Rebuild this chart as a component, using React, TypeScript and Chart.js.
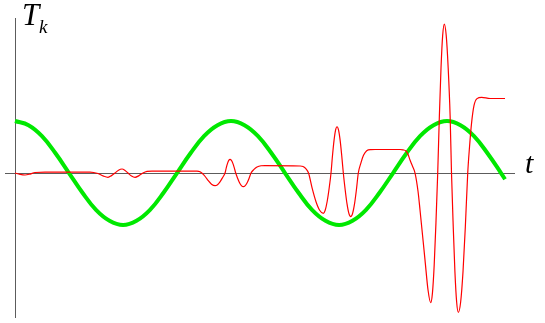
import React, { useEffect, useRef } from "react";
import { Chart, registerables } from "chart.js";

Chart.register(...registerables);

// Green reference wave
const greenT = [0, 0.393, 0.785, 1.178, 1.571, 1.963, 2.356, 2.749, 3.142, 3.534, 3.927, 4.32, 4.712, 5.105, 5.498, 5.89, 6.283, 6.676, 7.069, 7.461, 7.854, 8.247, 8.639, 9.032, 9.425, 9.817, 10.21, 10.603, 10.996, 11.388, 11.781, 12.174, 12.566, 12.959, 13.352, 13.744, 14.137, 14.254];
const greenV = [1, 0.92, 0.71, 0.38, 0, -0.38, -0.71, -0.92, -1, -0.92, -0.71, -0.38, 0, 0.38, 0.71, 0.92, 1, 0.92, 0.71, 0.38, 0, -0.38, -0.71, -0.92, -1, -0.92, -0.71, -0.38, 0, 0.38, 0.71, 0.92, 1, 0.92, 0.71, 0.38, 0, -0.12];

// Red response T_k
const redT = [
  0, 0.145, 0.291, 0.436, 0.582, 0.873, 1.309, 2.182, 2.414, 2.56, 2.705, 2.807, 2.909, 3.011, 3.113, 3.2, 3.287, 3.389, 3.491, 3.607, 3.723, 3.84, 3.985, 4.8,
  5.294, 5.382, 5.498, 5.614, 5.716, 5.818, 5.891, 5.963, 6.036, 6.109, 6.145, 6.182, 6.218, 6.254, 6.295, 6.337, 6.379, 6.42, 6.475, 6.531, 6.586, 6.641, 6.697, 6.753, 6.81, 6.865, 6.952, 7.04, 7.156, 7.272,
  8.29, 8.378, 8.465, 8.538, 8.645, 8.753, 8.861, 8.968, 9.023, 9.08, 9.137, 9.192, 9.236, 9.28, 9.323, 9.367, 9.413, 9.458, 9.503, 9.55, 9.604, 9.658, 9.712, 9.765, 9.82, 9.876, 9.931, 9.986, 10.065, 10.137, 10.23, 10.356, 10.472,
  11.199, 11.286, 11.374, 11.432, 11.49, 11.563, 11.636, 11.723, 11.781, 11.926, 12.014, 12.092, 12.143, 12.194, 12.245, 12.296, 12.344, 12.392, 12.44, 12.488, 12.543, 12.6, 12.657, 12.697, 12.747, 12.796, 12.846, 12.895, 12.964, 13.032, 13.1, 13.169, 13.221, 13.279, 13.352, 13.439, 13.576, 13.817, 14.254,
];
const redV = [
  0, -0.025, -0.038, -0.02, 0.01, 0.019, 0.019, 0.019, -0.01, -0.055, -0.083, -0.05, 0, 0.055, 0.077, 0.05, 0, -0.058, -0.083, -0.05, 0, 0.03, 0.038, 0.038,
  0.038, 0.025, -0.04, -0.14, -0.215, -0.244, -0.225, -0.17, -0.09, 0, 0.1, 0.186, 0.243, 0.263, 0.243, 0.186, 0.1, 0, -0.1, -0.186, -0.243, -0.263, -0.243, -0.186, -0.1, 0, 0.07, 0.115, 0.14, 0.144,
  0.135, 0.125, 0.08, 0, -0.297, -0.548, -0.716, -0.775, -0.716, -0.548, -0.297, 0, 0.341, 0.629, 0.822, 0.89, 0.822, 0.629, 0.341, 0, -0.321, -0.594, -0.776, -0.84, -0.776, -0.594, -0.321, 0, 0.2, 0.34, 0.429, 0.45, 0.452,
  0.452, 0.445, 0.423, 0.36, 0.25, 0.13, 0, -0.35, -0.71, -1.67, -2.25, -2.494, -2.304, -1.764, -0.954, 0, 1.096, 2.026, 2.647, 2.865, 2.647, 2.026, 1.096, 0, -1.025, -1.894, -2.475, -2.679, -2.475, -1.894, -1.025, 0, 0.5, 0.95, 1.3, 1.43, 1.456, 1.433, 1.433,
];

const xMin = -0.291;
const xMax = 14.544;
const yMin = -2.788;
const yMax = 2.981;

const xLabel = "t";
const yLabel = "T";
const ySub = "k";

const toPts = (ts: number[], vs: number[]) => ts.map((t, i) => ({ x: t, y: vs[i] }));

const axesPlugin = {
  id: "mathAxes",
  beforeDatasetsDraw(chart: any) {
    const { ctx, chartArea, scales } = chart;
    const x0 = Math.round(scales.x.getPixelForValue(0)) + 0.5;
    const y0 = Math.round(scales.y.getPixelForValue(0)) + 0.5;
    ctx.save();
    ctx.strokeStyle = "#5c5c5c";
    ctx.lineWidth = 1;
    ctx.beginPath();
    ctx.moveTo(chartArea.left, y0);
    ctx.lineTo(chartArea.right, y0);
    ctx.moveTo(x0, chartArea.top);
    ctx.lineTo(x0, chartArea.bottom);
    ctx.stroke();
    ctx.restore();
  },
  afterDraw(chart: any) {
    const { ctx, chartArea, scales } = chart;
    const x0 = scales.x.getPixelForValue(0);
    const y0 = scales.y.getPixelForValue(0);
    ctx.save();
    ctx.fillStyle = "#000";
    ctx.textBaseline = "alphabetic";
    ctx.textAlign = "left";
    ctx.font = "italic 31px 'Liberation Serif', 'DejaVu Serif', serif";
    ctx.fillText(yLabel, x0 + 7, chartArea.top + 7);
    ctx.font = "italic 19px 'Liberation Serif', 'DejaVu Serif', serif";
    ctx.fillText(ySub, x0 + 24, chartArea.top + 15);
    ctx.font = "italic 30px 'Liberation Serif', 'DejaVu Serif', serif";
    ctx.fillText(xLabel, chartArea.right + 10, y0);
    ctx.restore();
  },
};

export default function App() {
  const ref = useRef<HTMLCanvasElement | null>(null);
  useEffect(() => {
    if (!ref.current) return;
    const chart = new Chart(ref.current, {
      type: "line",
      data: {
        datasets: [
          {
            data: toPts(redT, redV),
            borderColor: "#ff0000",
            borderWidth: 1.2,
            pointRadius: 0,
            cubicInterpolationMode: "monotone",
            fill: false,
            order: 1,
          },
          {
            data: toPts(greenT, greenV),
            borderColor: "rgb(0,232,0)",
            borderWidth: 4,
            pointRadius: 0,
            tension: 0.4,
            fill: false,
            order: 2,
          },
        ],
      },
      options: {
        animation: false,
        responsive: false,
        maintainAspectRatio: false,
        layout: { padding: { left: 5, right: 30, top: 18, bottom: 5 } },
        plugins: { legend: { display: false }, tooltip: { enabled: false }, title: { display: false } },
        scales: {
          x: { type: "linear", min: xMin, max: xMax, display: false },
          y: { type: "linear", min: yMin, max: yMax, display: false },
        },
      },
      plugins: [axesPlugin],
    });
    return () => chart.destroy();
  }, []);
  return (
    <div style={{ position: "fixed", left: 0, top: 0, width: 545, height: 323, background: "#fff" }}>
      <canvas ref={ref} width={545} height={323} style={{ width: 545, height: 323, display: "block" }} />
    </div>
  );
}
